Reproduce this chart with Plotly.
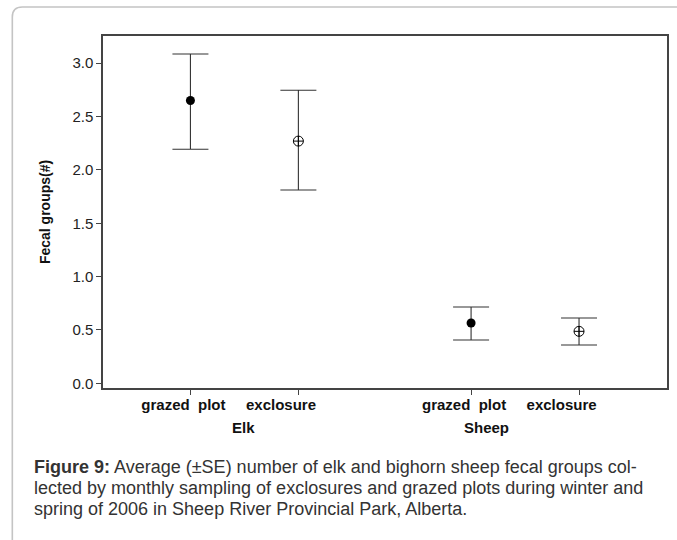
import plotly.graph_objects as go

# ---- data ----
positions = [1.0, 2.0, 3.6, 4.6]
tick_labels = ["grazed\u00a0\u00a0plot", "exclosure" + "\u00a0" * 5,
               "grazed\u00a0\u00a0plot", "exclosure" + "\u00a0" * 5]
group_labels = ["Elk", "Sheep"]
group_centers = [1.49, 3.74]
means = [2.65, 2.27, 0.565, 0.487]
upper = [3.087, 2.746, 0.715, 0.612]
lower = [2.193, 1.812, 0.406, 0.359]
treatment = ["grazed", "exclosure", "grazed", "exclosure"]
yticks = [0.0, 0.5, 1.0, 1.5, 2.0, 2.5, 3.0]
caption_lines = [
    "<b>Figure 9:</b> Average (±SE) number of elk and bighorn sheep fecal groups col-",
    "lected by monthly sampling of exclosures and grazed plots during winter and",
    "spring of 2006 in Sheep River Provincial Park, Alberta.",
]

W, H = 677, 540
L, R, T, B = 103, 669, 36, 388  # plot area in pixels
FONT = "Liberation Sans, Arial"

fig = go.Figure()

styles = {
    "grazed": dict(symbol="circle", size=9, color="black", line=dict(width=0)),
    "exclosure": dict(symbol="circle-cross-open", size=10, color="black", line=dict(width=1)),
}
for t in ["grazed", "exclosure"]:
    idx = [i for i, v in enumerate(treatment) if v == t]
    fig.add_trace(go.Scatter(
        x=[positions[i] for i in idx],
        y=[means[i] for i in idx],
        mode="markers",
        marker=styles[t],
        error_y=dict(type="data", symmetric=False,
                     array=[upper[i] - means[i] for i in idx],
                     arrayminus=[means[i] - lower[i] for i in idx],
                     color="#333", thickness=1.1, width=18),
        showlegend=False, hoverinfo="skip",
    ))

pw, ph = R - L, B - T
def px(x):
    return (x - L) / pw
def py(y):
    return (B - y) / ph

for name, cx in zip(group_labels, group_centers):
    fig.add_annotation(x=cx, xref="x", y=py(428), yref="paper",
                       xanchor="center", yanchor="middle",
                       text=f"<b>{name}</b>", showarrow=False,
                       font=dict(family=FONT, size=15, color="#111"))

for k, line in enumerate(caption_lines):
    fig.add_annotation(x=px(32), y=py(467 + 21 * k), xref="paper", yref="paper",
                       xanchor="left", yanchor="middle", align="left",
                       text=line, showarrow=False,
                       font=dict(family=FONT, size=18, color="#333"))

# outer rounded frame
x0, y0, x1, y1 = px(12), py(7), px(700), py(560)
rx, ry = 10 / pw, 10 / ph
path = (f"M {x0},{y1} L {x0},{y0 - ry} Q {x0},{y0} {x0 + rx},{y0} "
        f"L {x1},{y0}")
fig.add_shape(type="path", path=path, xref="paper", yref="paper",
              line=dict(color="#c4c4c4", width=1.6), layer="below")

fig.update_layout(
    width=W, height=H,
    margin=dict(l=L, r=W - R, t=T, b=H - B),
    paper_bgcolor="white", plot_bgcolor="white",
    font=dict(family=FONT, color="#222"),
    xaxis=dict(range=[0.19, 5.415], tickvals=positions, ticktext=tick_labels,
               ticks="outside", ticklen=5, tickcolor="#444",
               ticklabelshift=-7, ticklabelstandoff=-3,
               tickfont=dict(size=15, color="#111", weight="bold"),
               showgrid=False, zeroline=False, showline=True, linecolor="#444",
               linewidth=1.5, mirror=True),
    yaxis=dict(range=[-0.044, 3.255], tickvals=yticks,
               ticktext=[f"{v:.1f}" for v in yticks],
               ticks="outside", ticklen=5, tickcolor="#444",
               tickfont=dict(size=15, color="#222"),
               showgrid=False, zeroline=False, showline=True, linecolor="#444",
               linewidth=1.5, mirror=True,
               title=dict(text="<b>Fecal groups(#)</b>", standoff=18,
                          font=dict(size=14, color="#111"))),
)

fig.write_html("out.html")
